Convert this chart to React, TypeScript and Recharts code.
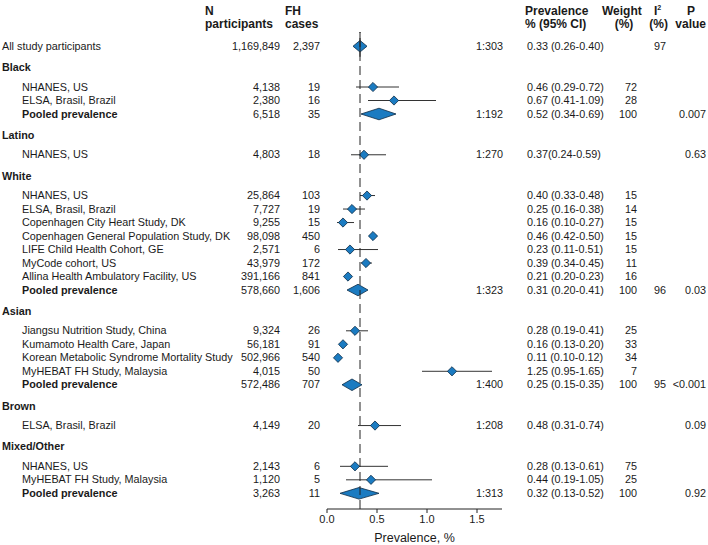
import React from 'react';
import { ComposedChart, Bar, XAxis, YAxis, ReferenceLine, Label } from 'recharts';

// row table, one entry per line of the forest plot
const rowLabels = [
  'All study participants',
  'Black', 'NHANES, US', 'ELSA, Brasil, Brazil', 'Pooled prevalence',
  'Latino', 'NHANES, US',
  'White', 'NHANES, US', 'ELSA, Brasil, Brazil', 'Copenhagen City Heart Study, DK',
  'Copenhagen General Population Study, DK', 'LIFE Child Health Cohort, GE', 'MyCode cohort, US',
  'Allina Health Ambulatory Facility, US', 'Pooled prevalence',
  'Asian', 'Jiangsu Nutrition Study, China', 'Kumamoto Health Care, Japan',
  'Korean Metabolic Syndrome Mortality Study', 'MyHEBAT FH Study, Malaysia', 'Pooled prevalence',
  'Brown', 'ELSA, Brasil, Brazil',
  'Mixed/Other', 'NHANES, US', 'MyHEBAT FH Study, Malaysia', 'Pooled prevalence',
];
const rowKinds = [
  'all',
  'group', 'study', 'study', 'pooled',
  'group', 'study',
  'group', 'study', 'study', 'study', 'study', 'study', 'study', 'study', 'pooled',
  'group', 'study', 'study', 'study', 'study', 'pooled',
  'group', 'study',
  'group', 'study', 'study', 'pooled',
];
const participants = [
  '1,169,849',
  '', '4,138', '2,380', '6,518',
  '', '4,803',
  '', '25,864', '7,727', '9,255', '98,098', '2,571', '43,979', '391,166', '578,660',
  '', '9,324', '56,181', '502,966', '4,015', '572,486',
  '', '4,149',
  '', '2,143', '1,120', '3,263',
];
const fhCases = [
  '2,397',
  '', '19', '16', '35',
  '', '18',
  '', '103', '19', '15', '450', '6', '172', '841', '1,606',
  '', '26', '91', '540', '50', '707',
  '', '20',
  '', '6', '5', '11',
];
const prevalence = [
  0.33,
  null, 0.46, 0.67, 0.52,
  null, 0.37,
  null, 0.40, 0.25, 0.16, 0.46, 0.23, 0.39, 0.21, 0.31,
  null, 0.28, 0.16, 0.11, 1.25, 0.25,
  null, 0.48,
  null, 0.28, 0.44, 0.32,
];
const ciLow = [
  0.26,
  null, 0.29, 0.41, 0.34,
  null, 0.24,
  null, 0.33, 0.16, 0.10, 0.42, 0.11, 0.34, 0.20, 0.20,
  null, 0.19, 0.13, 0.10, 0.95, 0.15,
  null, 0.31,
  null, 0.13, 0.19, 0.13,
];
const ciHigh = [
  0.40,
  null, 0.72, 1.09, 0.69,
  null, 0.59,
  null, 0.48, 0.38, 0.27, 0.50, 0.51, 0.45, 0.23, 0.41,
  null, 0.41, 0.20, 0.12, 1.65, 0.35,
  null, 0.74,
  null, 0.61, 1.05, 0.52,
];
const ratioLabels = [
  '1:303',
  '', '', '', '1:192',
  '', '1:270',
  '', '', '', '', '', '', '', '', '1:323',
  '', '', '', '', '', '1:400',
  '', '1:208',
  '', '', '', '1:313',
];
const prevalenceLabels = [
  '0.33 (0.26-0.40)',
  '', '0.46 (0.29-0.72)', '0.67 (0.41-1.09)', '0.52 (0.34-0.69)',
  '', '0.37(0.24-0.59)',
  '', '0.40 (0.33-0.48)', '0.25 (0.16-0.38)', '0.16 (0.10-0.27)', '0.46 (0.42-0.50)',
  '0.23 (0.11-0.51)', '0.39 (0.34-0.45)', '0.21 (0.20-0.23)', '0.31 (0.20-0.41)',
  '', '0.28 (0.19-0.41)', '0.16 (0.13-0.20)', '0.11 (0.10-0.12)', '1.25 (0.95-1.65)', '0.25 (0.15-0.35)',
  '', '0.48 (0.31-0.74)',
  '', '0.28 (0.13-0.61)', '0.44 (0.19-1.05)', '0.32 (0.13-0.52)',
];
const weights = [
  '',
  '', '72', '28', '100',
  '', '',
  '', '15', '14', '15', '15', '15', '11', '16', '100',
  '', '25', '33', '34', '7', '100',
  '', '',
  '', '75', '25', '100',
];
const i2Values = [
  '97',
  '', '', '', '',
  '', '',
  '', '', '', '', '', '', '', '', '96',
  '', '', '', '', '', '95',
  '', '',
  '', '', '', '',
];
const pValues = [
  '',
  '', '', '', '0.007',
  '', '0.63',
  '', '', '', '', '', '', '', '', '0.03',
  '', '', '', '', '', '<0.001',
  '', '0.09',
  '', '', '', '0.92',
];
const xTicks = [0, 0.5, 1, 1.5];

const FONT = '"Liberation Sans", Arial, Helvetica, sans-serif';
const TEXT = '#1a1a1a';
const BLUE = '#1b7bc1';
const EDGE = '#0d2b45';

// vertical position of each row (row units); headings get extra room
let cursor = 0;
const rowPos = rowKinds.map((k, i) => {
  if (i === 0) return 0;
  cursor += k === 'group' ? 1.58 : rowKinds[i - 1] === 'group' ? 1.44 : 1;
  return cursor;
});

const rows = rowLabels.map((label, i) => ({
  pos: rowPos[i],
  kind: rowKinds[i],
  label,
  n: participants[i],
  fh: fhCases[i],
  est: prevalence[i],
  lo: ciLow[i],
  hi: ciHigh[i],
  ratio: ratioLabels[i],
  prevText: prevalenceLabels[i],
  weight: weights[i],
  i2: i2Values[i],
  p: pValues[i],
}));

const overallEst = prevalence[0] as number;
const yMin = -1.037;
const yMax = 34.3;

const ForestShape = (props: any) => {
  const { x, y, width, height, payload } = props;
  if (!payload || payload.lo == null || payload.est == null) return <g />;
  const cy = y + height / 2;
  const ex = x + (width * (payload.est - payload.lo)) / (payload.hi - payload.lo);
  if (payload.kind === 'study') {
    const s = 4.6;
    return (
      <g>
        <line x1={x} x2={x + width} y1={cy} y2={cy} stroke="#333" strokeWidth={1} />
        <polygon
          points={`${ex - s},${cy} ${ex},${cy - s} ${ex + s},${cy} ${ex},${cy + s}`}
          fill={BLUE}
          stroke={EDGE}
          strokeWidth={0.8}
        />
      </g>
    );
  }
  const h = 5.8;
  return (
    <polygon
      points={`${x},${cy} ${ex},${cy - h} ${x + width},${cy} ${ex},${cy + h}`}
      fill={BLUE}
      stroke={EDGE}
      strokeWidth={0.8}
    />
  );
};

const RowText = (props: any) => {
  const { y, payload } = props;
  const row = rows.find(r => Math.abs(r.pos - payload.value) < 1e-6);
  if (!row) return <g />;
  const heading = row.kind === 'group' || row.kind === 'all';
  const bold = row.kind === 'group' || row.kind === 'pooled';
  return (
    <g fontFamily={FONT} fontSize={10.8} fill={TEXT}>
      <text x={heading ? 2 : 22} y={y} dy="0.35em" fontWeight={bold ? 'bold' : 'normal'}>
        {row.label}
      </text>
      <text x={280} y={y} dy="0.35em" textAnchor="end">{row.n}</text>
      <text x={320} y={y} dy="0.35em" textAnchor="end">{row.fh}</text>
      <text x={476} y={y} dy="0.35em">{row.ratio}</text>
      <text x={527} y={y} dy="0.35em">{row.prevText}</text>
      <text x={637} y={y} dy="0.35em" textAnchor="end">{row.weight}</text>
      <text x={666} y={y} dy="0.35em" textAnchor="end">{row.i2}</text>
      <text x={706} y={y} dy="0.35em" textAnchor="end">{row.p}</text>
    </g>
  );
};

const Headers = () => (
  <svg
    width={708}
    height={34}
    style={{ position: 'absolute', left: 0, top: 0, pointerEvents: 'none' }}
  >
    <g fontFamily={FONT} fontSize={12} fontWeight="bold" fill={TEXT}>
      <text x={205} y={15}>N</text>
      <text x={205} y={28}>participants</text>
      <text x={285} y={15}>FH</text>
      <text x={285} y={28}>cases</text>
      <text x={525} y={15}>Prevalence</text>
      <text x={525} y={28}>% (95% CI)</text>
      <text x={602} y={15}>Weight</text>
      <text x={624} y={28} textAnchor="middle">(%)</text>
      <text x={654} y={15}>
        I<tspan fontSize={7} dy={-5}>2</tspan>
      </text>
      <text x={668} y={28} textAnchor="end">(%)</text>
      <text x={687} y={15}>P</text>
      <text x={706} y={28} textAnchor="end">value</text>
    </g>
  </svg>
);

export default function App() {
  return (
    <div style={{ position: 'absolute', left: 0, top: 0, width: 708, height: 545, background: '#fff' }}>
      <ComposedChart
        width={708}
        height={545}
        data={rows}
        layout="vertical"
        margin={{ top: 32, right: 206, bottom: 0, left: 0 }}
      >
        <XAxis
          type="number"
          domain={[0, 1.75]}
          ticks={xTicks}
          allowDataOverflow
          tickFormatter={(v: number) => v.toFixed(1)}
          height={36}
          stroke="#222"
          tickSize={4}
          tick={{ fontSize: 11, fill: TEXT, fontFamily: FONT }}
        >
          <Label
            value="Prevalence, %"
            position="insideBottom"
            offset={3}
            fill={TEXT}
            style={{ fontSize: 12.5, fontFamily: FONT }}
          />
        </XAxis>
        <YAxis
          type="number"
          dataKey="pos"
          domain={[yMin, yMax]}
          allowDataOverflow
          ticks={rowPos}
          interval={0}
          tick={(p: any) => <RowText {...p} />}
          tickLine={false}
          axisLine={false}
          width={327}
        />
        <ReferenceLine x={overallEst} stroke="#222" strokeDasharray="9 5" />
        <ReferenceLine
          segment={[
            { x: overallEst, y: yMin },
            { x: overallEst, y: 0.8 },
          ]}
          stroke="#222"
        />
        <Bar
          dataKey={(d: any) => (d.lo == null ? null : [d.lo, d.hi])}
          barSize={10}
          shape={ForestShape}
          activeBar={false}
          isAnimationActive={false}
        />
      </ComposedChart>
      <Headers />
    </div>
  );
}
